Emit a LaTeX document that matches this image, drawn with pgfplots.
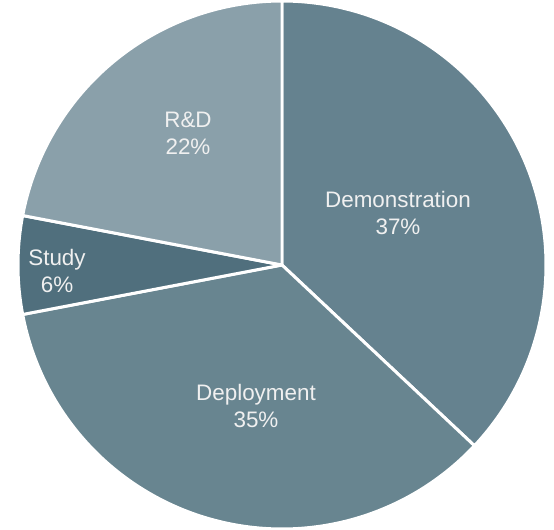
\documentclass[border=0pt]{standalone}
\usepackage{pgfplots}
\pgfplotsset{compat=1.18}
\usepackage{fontspec}
\setmainfont{Liberation Sans}
\definecolor{cDemo}{RGB}{101,130,143}
\definecolor{cDeploy}{RGB}{104,133,144}
\definecolor{cStudy}{RGB}{80,111,125}
\definecolor{cRD}{RGB}{138,160,170}
\begin{document}
\begin{tikzpicture}
\useasboundingbox (0,0) rectangle (554bp,530bp);
\begin{axis}[hide axis, scale only axis, width=554bp, height=530bp,
  xmin=0, xmax=554, ymin=0, ymax=530, clip=false]
% cumulative start / share (percent) / colour
\foreach \cum/\p/\c in {0/37/cDemo, 37/35/cDeploy, 72/6/cStudy, 78/22/cRD}{
  \pgfmathsetmacro\a{90-3.6*\cum}
  \pgfmathsetmacro\b{90-3.6*(\cum+\p)}
  \edef\doit{\noexpand\addplot[fill=\c, draw=white, line width=3pt, line join=round,
     domain=\a:\b, samples=120, variable=\noexpand\t]
     ({282+264*cos(\noexpand\t)},{265+264*sin(\noexpand\t)}) -- (axis cs:282,265) -- cycle;}
  \doit
}
\tikzset{lab/.style={text=white!94!black, align=center, font=\fontsize{22.5}{27}\selectfont}}
\node[lab] at (axis cs:398,317) {Demonstration\\37\%};
\node[lab] at (axis cs:256,124) {Deployment\\35\%};
\node[lab] at (axis cs:57,259) {Study\\6\%};
\node[lab] at (axis cs:188,397) {R\&D\\22\%};
\end{axis}
\end{tikzpicture}
\end{document}
